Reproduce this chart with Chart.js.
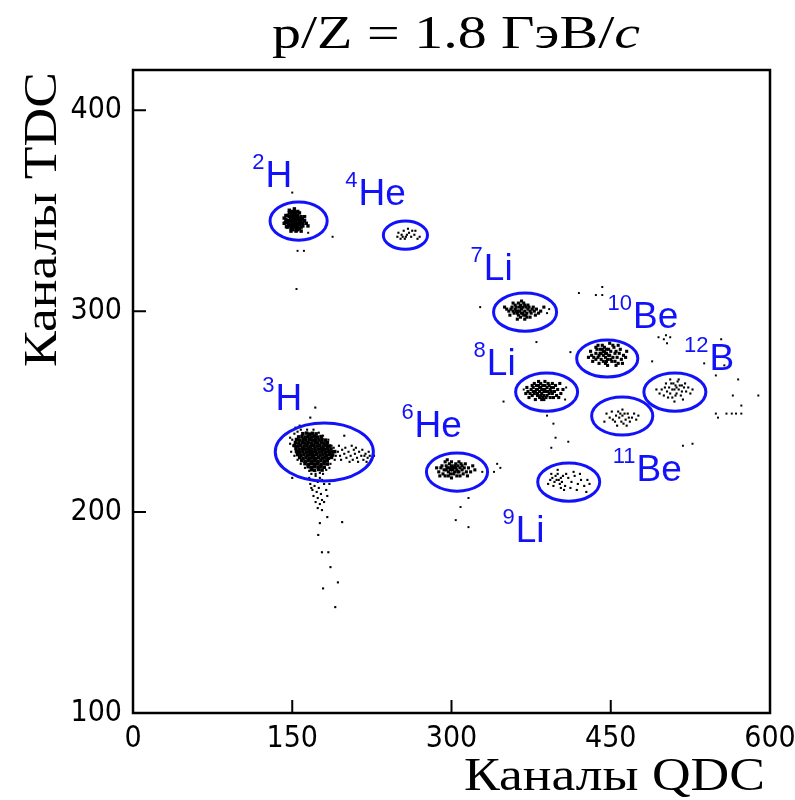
<!DOCTYPE html>
<html>
<head>
<meta charset="utf-8">
<script src="https://cdn.jsdelivr.net/npm/chart.js@4/dist/chart.umd.min.js"></script>
<style>
  body { margin: 0; background: #fff; }
</style>
</head>
<body>
<canvas id="pid" width="795" height="800"></canvas>
<script>
// QDC vs TDC channels, p/Z = 1.8 GeV/c; each array is [qdc, tdc]
const h2Pts = [[148.8,346.3],[152,345],[153.6,344.4],[150.4,343.7],[155.2,345.7],[147.2,347],[152,348.3],[156.8,343],[148.8,342.4],[153.6,347],[158.4,345],[145.6,345],[150.4,345.7],[155.2,343.7],[152,342.4],[148.8,344.4],[153.6,345.7],[156.8,346.3],[147.2,343],[152,347],[155.2,341.8],[150.4,347.6],[160,343.7],[153.6,343],[148.8,345.7],[145.6,347.6],[158.4,341.8],[152,343.7],[155.2,347.6],[150.4,341.8],[147.2,348.9],[153.6,348.9],[156.8,344.4],[144,345.7],[148.8,341.1],[152,349.6],[158.4,347],[161.6,345],[153.6,340.5],[150.4,349.6],[142.4,343.7],[147.2,350.2],[155.2,349.6],[160,342.4],[148.8,339.8],[156.8,341.1],[145.6,341.8],[163.2,343.7],[152,350.9],[144,347.6],[156.8,348.9],[153.6,339.8],[161.6,347],[142.4,346.3],[150.4,340.5],[164.8,342.4],[148.8,348.3],[155.2,340.5],[158.4,339.8],[147.2,345],[152,345.7],[153.6,341.8],[150.4,344.4],[156.8,345.7],[148.8,347],
  [146,344],[149,346.5],[154,346.8],[157.5,344],[151,342],[146.5,342.8],[159.5,346],[143.5,344],[155,342.8],[149.5,349.3],[144.5,342]];
const he4Pts = [[250,339],[253,338],[255,340],[258,338],[260,339],[262,337],[256,336],[252,336],[265,338],[268,336],[259,341],[263,340],[254,337],[270,337],[257,337],[249,337],[266,340]];
const li7Pts = [[360,301],[363,300],[366,301],[369,300],[372,301],[364,302],[367,299],[370,302],[362,299],[358,300],[374,300],[365,303],[368,298],[371,299],[361,302],[376,301],[356,301],[366,299],[369,303],[363,298],[373,302],[359,299],[378,300],[354,300],[367,302],[364,300],[370,298],[361,300],[375,299],[357,302],[380,301],[352,301],[368,304],[365,297],[372,303],[360,303],[377,302],[382,299],[355,298],[363,304],[371,297],[384,300],[350,302],[366,305],[374,297],[358,304],[379,298],[387,302],[369,296],[362,296]];
const li8Pts = [[380,261],[383,260],[386,261],[389,260],[392,259],[378,259],[384,262],[387,258],[381,258],[390,262],[375,261],[385,259],[388,263],[382,263],[393,261],[377,262],[386,257],[379,260],[395,259],[383,257],[374,259],[390,258],[384,264],[380,263],[397,260],[388,261],[376,258],[392,263],[381,261],[386,263],[399,258],[372,260],[394,262],[378,264],[385,261],[389,257],[383,262],[396,257],[371,262],[391,264],[387,256],[400,261],[379,256],[382,265],[393,257],[376,263],[398,263],[385,256],[403,259],[373,257],[395,264],[388,265],[370,259],[401,257],[384,258],[387,260],[391,260],[381,259],[377,260],[394,260],[405,261],[396,262],[402,264]];
const be10Pts = [[440,279],[443,278],[446,279],[449,278],[452,277],[438,277],[444,280],[447,276],[441,276],[450,280],[436,279],[445,277],[448,281],[442,281],[454,279],[437,281],[446,275],[439,278],[456,277],[443,275],[434,277],[451,275],[444,282],[440,281],[458,279],[448,278],[436,276],[453,282],[441,279],[446,281],[460,276],[432,278],[455,280],[438,283],[445,279],[450,276],[443,280],[457,274],[431,280],[452,283],[447,273],[462,278],[439,274],[442,283],[454,275],[436,282],[459,281],[445,274],[464,277],[433,275],[457,283],[449,284],[465,280],[429,277],[461,274],[455,273]];
const b12Pts = [[505,262],[508,261],[511,263],[514,261],[517,260],[503,260],[509,264],[512,259],[506,259],[515,263],[501,262],[510,261],[513,265],[507,264],[519,262],[498,261],[511,258],[504,257],[521,260],[516,258],[500,258],[520,264],[508,257],[514,266],[496,259],[523,262],[518,256],[502,264],[525,259],[493,261],[510,255],[506,266],[527,261],[512,262],[517,263]];
const be11Pts = [[455,248],[458,247],[461,248],[464,246],[467,247],[452,246],[460,245],[463,249],[457,250],[466,249],[470,247],[449,247],[462,244],[459,249],[472,249],[454,245],[465,243],[446,249],[468,245],[456,243],[474,246],[451,250],[461,251],[444,245],[476,248]];
const h3Core = [[160,239],[163.5,239.3],[166.2,238.8],[169,239.2],[172.5,238.9],
  [156,237.4],[159.2,237.7],[162.5,237.3],[165,237.6],[168.3,237.4],[171,237.8],[174,237.3],[177.2,237.6],
  [154,236.1],[157.1,235.8],[160.3,236.2],[163,235.9],[166.5,236.1],[169.2,235.8],[172,236.2],[175.1,235.9],[178,236.1],[181.2,235.8],
  [153,234.6],[156.2,234.3],[159.5,234.7],[162.1,234.4],[165,234.6],[168.2,234.3],[171.5,234.6],[174,234.4],[177.3,234.7],[180,234.3],[183.1,234.6],
  [152,233.1],[155.1,232.8],[158,233.2],[161.2,232.9],[164,233.1],[167.1,232.8],[170,233.2],[173.2,232.9],[176,233.1],[179.1,232.8],[182,233.2],[185.1,232.9],
  [153.5,231.6],[156.5,231.3],[159.6,231.7],[162.5,231.4],[165.6,231.6],[168.5,231.3],[171.4,231.7],[174.5,231.4],[177.6,231.6],[180.5,231.3],[183.4,231.7],[186.5,231.4],
  [154,230.1],[157.1,229.8],[160,230.2],[163.2,229.9],[166,230.1],[169.1,229.8],[172,230.2],[175.2,229.9],[178,230.1],[181.1,229.8],[184,230.2],[187.1,229.9],[190,230.1],
  [155,228.6],[158.1,228.3],[161,228.7],[164.2,228.4],[167,228.6],[170.1,228.3],[173,228.7],[176.2,228.4],[179,228.6],[182.1,228.3],[185,228.7],[188.1,228.4],
  [157,227.1],[160.1,226.8],[163,227.2],[166.2,226.9],[169,227.1],[172.1,226.8],[175,227.2],[178.2,226.9],[181,227.1],[184.1,226.8],[187,227.2],
  [159,225.6],[162.1,225.3],[165,225.7],[168.2,225.4],[171,225.6],[174.1,225.3],[177,225.7],[180.2,225.4],[183,225.6],
  [162,224.1],[165.1,223.8],[168,224.2],[171.2,223.9],[174,224.1],[177.1,223.8],[180,224.2],[183.1,223.9],
  [165,222.6],[168.1,222.3],[171,222.7],[174.2,222.4],[177,222.6],[180.1,222.3],
  [168,221.1],[171.1,220.8],[175,221.2],[178.1,220.9]];
const h3Pts = [[150,236],[151,233],[149,230],[152,239],[155,240],[158,241],[164,241],[170,241],[175,239.5],[179,238],[184,236],[187,233],[189,232],[191,228],[190,226],[186,224],[185,222],[182,221],[176,219.5],[172,219],[166,220.5],[162,222],[158,224],[155,226],[152,228],[157,243],[153,242],[148,234],
  [193,230],[195,228],[197,231],[199,229],[201,227],[203,230],[205,228],[207,226],[209,229],[211,227],[213,230],[215,228],[217,226],[219,229],[221,227],[223,228],[225,226],[196,226],[200,232],[204,225],[208,231],[212,225],[216,231],[220,225],[194,233],[210,232],[218,228],[222,230],[227,228],[206,233],
  [168,219],[172,218],[176,217],[170,216],[174,215],[178,216],[167,214],[171,213],[175,212],[180,214],[169,211],[173,210],[177,209],[182,211],[170,208],[174,207],[178,206],[172,205],[176,204],[180,205],[174,202],[178,201],[168,212],[183,208],[166,217],[179,219],[185,214],
  [183,197.5],[176,194.5],[197,195],[174.5,188.6],[178,180],[184,180],[186,172.6],[193,165],[179,162],[190.5,152.7],[171.7,252],[167,247],[199,238],[148,237],[150,217]];
const he6Pts = [[296,222],[299,221],[302,222],[305,221],[308,222],[293,221],[300,223],[303,220],[297,220],[306,223],[290,222],[301,221],[304,224],[298,224],[310,221],[292,219],[302,219],[295,223],[312,222],[299,219],[288,220],[307,220],[300,225],[294,225],[314,220],[305,218],[291,223],[309,224],[297,218],[303,223],[316,222],[289,218],[311,219],[296,226],[304,222],[307,225],[318,220],[286,222],[313,224],[300,217],[320,223],[294,218],[308,218],[322,221],[301,222],[298,222],[306,220],[295,221],[310,223],[315,218]];
const li9Pts = [[395,217],[398,218],[401,216],[397,215],[400,219],[403,217],[394,219],[399,216],[402,214],[396,213],[405,218],[393,216],[400,221],[404,215],[407,213],[410,217],[413,215],[416,218],[419,214],[422,216],[425,213],[412,212],[418,211],[415,220],[428,216],[408,219],[391,214],[421,219],[406,211],[430,214],[403,212],[427,210]];
const strayPts = [[161,330],[155,330],[188,337],[150,359],[154,311],[165,339],
  [327,302],[390,299],[392,301],[380,284.6],[412,279.6],[420,309],[436,308],[442,312],[442,308],
  [495,287],[502,288],[500,286],[506,287],[503,284],[489,275],[538,274],[549,268],[557,273],[554,286],[570,266],[565,258],[573,253],[589,258],[549,249],[551,247],[559,249],[564,249],[568,249],[573,249],[518,233],[527,234],[410,235],
  [407,256],[408,262],[368,261],[349,255],[390,248],[396,244],[398,237],[394,232],
  [343,224],[346,222],[340,220],[316,207],[308.5,202.5],[304,196],[316,192.5],[329,220]];

// selection cuts: centre and half-axes in channels
const cutNames = ['2H', '4He', '7Li', '8Li', '10Be', '12B', '11Be', '3H', '6He', '9Li'];
const cutX  = [156, 256.6, 369.3, 389.6, 446.7, 510.4, 460.8, 180.2, 305.2, 410.4];
const cutY  = [344.8, 337.8, 299.5, 259.7, 276.4, 259.7, 247.8, 229.9, 219.9, 214.9];
const cutRx = [26.9, 20.8, 29.7, 29.2, 28.8, 29.2, 28.8, 46.2, 28.8, 29.2];
const cutRy = [9.5, 7, 9.5, 9.5, 9.2, 9.5, 9.5, 14.4, 9.5, 9.5];

// isotope labels: mass number, element, anchor (left, baseline) in channels
const labA  = ['2', '4', '7', '8', '10', '12', '11', '3', '6', '9'];
const labEl = ['H', 'He', 'Li', 'Li', 'Be', 'B', 'Be', 'H', 'He', 'Li'];
const labX  = [112.3, 200, 318, 320.8, 447, 519, 451.9, 121.7, 252.8, 348];
const labY  = [361.7, 352.7, 315.4, 268.2, 291.5, 270.6, 215.4, 250.7, 237.3, 185.1];

const xTicks = [0, 150, 300, 450, 600];
const yTicks = [100, 200, 300, 400];

const BLUE = 'rgb(18,18,250)';
const SERIF = '"Liberation Serif", "DejaVu Serif", serif';
const SANS = '"Liberation Sans", Arial, sans-serif';
const NARROW = '"Liberation Sans Narrow", "DejaVu Sans Condensed", "Liberation Sans", sans-serif';

const pts = arr => arr.map(p => ({ x: p[0], y: p[1] }));
const dense = (arr, r) => ({
  data: pts(arr), pointStyle: 'rect', pointRadius: r, pointBorderWidth: 0,
  pointBackgroundColor: '#000', showLine: false
});

// serif text, widened a little, right end at (x, y) after rotation
function wideText(ctx, text, x, y, rot, size, sx) {
  ctx.save();
  ctx.translate(x, y);
  ctx.rotate(rot);
  ctx.scale(sx, 1);
  ctx.font = size + 'px ' + SERIF;
  ctx.textAlign = 'right';
  ctx.fillText(text, 0, 0);
  ctx.restore();
}

// frame, inward tick marks, cut ellipses, isotope names and titles
const decor = {
  id: 'decor',
  afterDatasetsDraw(chart) {
    const { ctx, chartArea: a, scales: { x, y } } = chart;
    ctx.save();
    ctx.strokeStyle = BLUE;
    ctx.lineWidth = 3;
    cutX.forEach((cx, i) => {
      const px = x.getPixelForValue(cx), py = y.getPixelForValue(cutY[i]);
      const rx = x.getPixelForValue(cx + cutRx[i]) - px;
      const ry = py - y.getPixelForValue(cutY[i] + cutRy[i]);
      ctx.beginPath();
      ctx.ellipse(px, py, rx, ry, 0, 0, Math.PI * 2);
      ctx.stroke();
    });
    ctx.fillStyle = BLUE;
    ctx.textBaseline = 'alphabetic';
    ctx.textAlign = 'left';
    labX.forEach((lx, i) => {
      const px = x.getPixelForValue(lx), py = y.getPixelForValue(labY[i]);
      ctx.font = '22px ' + SANS;
      ctx.fillText(labA[i], px, py - 18);
      const w = ctx.measureText(labA[i]).width;
      ctx.font = '37px ' + SANS;
      ctx.fillText(labEl[i], px + w + 1, py);
    });

    ctx.strokeStyle = '#000';
    ctx.lineWidth = 2.5;
    ctx.strokeRect(a.left, a.top, a.right - a.left, a.bottom - a.top);
    ctx.lineWidth = 2;
    ctx.beginPath();
    xTicks.slice(1, -1).forEach(v => {
      const px = x.getPixelForValue(v);
      ctx.moveTo(px, a.bottom); ctx.lineTo(px, a.bottom - 13);
    });
    yTicks.slice(1).forEach(v => {
      const py = y.getPixelForValue(v);
      ctx.moveTo(a.left, py); ctx.lineTo(a.left + 13, py);
    });
    ctx.stroke();

    ctx.fillStyle = '#000';
    wideText(ctx, 'Каналы QDC', a.right - 5, a.bottom + 77, 0, 47, 1.14);
    wideText(ctx, 'Каналы TDC', 56, a.top + 2, -Math.PI / 2, 47, 1.14);

    // heading with italic c
    const sx = 1.26;
    ctx.font = '46px ' + SERIF;
    const head = 'p/Z = 1.8 ГэВ/';
    const w1 = ctx.measureText(head).width;
    ctx.font = 'italic 46px ' + SERIF;
    const w2 = ctx.measureText('c').width;
    ctx.translate(456 - (w1 + w2) * sx / 2, 48);
    ctx.scale(sx, 1);
    ctx.font = '46px ' + SERIF;
    ctx.fillText(head, 0, 0);
    ctx.font = 'italic 46px ' + SERIF;
    ctx.fillText('c', w1, 0);
    ctx.restore();
  }
};

new Chart(document.getElementById('pid'), {
  type: 'scatter',
  data: {
    datasets: [
      dense(h2Pts, 2.4), dense(he4Pts, 1.5), dense(li7Pts, 2.2), dense(li8Pts, 2.2),
      dense(be10Pts, 2.2), dense(b12Pts, 1.5), dense(be11Pts, 1.5), dense(h3Core, 2.5),
      dense(h3Pts, 1.5), dense(he6Pts, 2.2), dense(li9Pts, 1.5), dense(strayPts, 1.4)
    ]
  },
  options: {
    responsive: false,
    animation: false,
    events: [],
    layout: { padding: { top: 70, right: 25, left: 0, bottom: 0 } },
    plugins: { legend: { display: false }, tooltip: { enabled: false } },
    scales: {
      x: {
        type: 'linear', min: 0, max: 600,
        afterFit: s => { s.height = 87; s.paddingLeft = 0; s.paddingRight = 0; },
        afterBuildTicks: s => { s.ticks = xTicks.map(v => ({ value: v })); },
        grid: { display: false, drawTicks: false },
        border: { display: false },
        ticks: { color: '#000', padding: 8, maxRotation: 0, font: { family: NARROW, size: 30 } }
      },
      y: {
        type: 'linear', min: 100, max: 420,
        afterFit: s => { s.width = 133; s.paddingTop = 0; s.paddingBottom = 0; },
        afterBuildTicks: s => { s.ticks = yTicks.map(v => ({ value: v })); },
        grid: { display: false, drawTicks: false },
        border: { display: false },
        ticks: { color: '#000', padding: 11, font: { family: NARROW, size: 30 } }
      }
    }
  },
  plugins: [decor]
});
</script>
</body>
</html>
